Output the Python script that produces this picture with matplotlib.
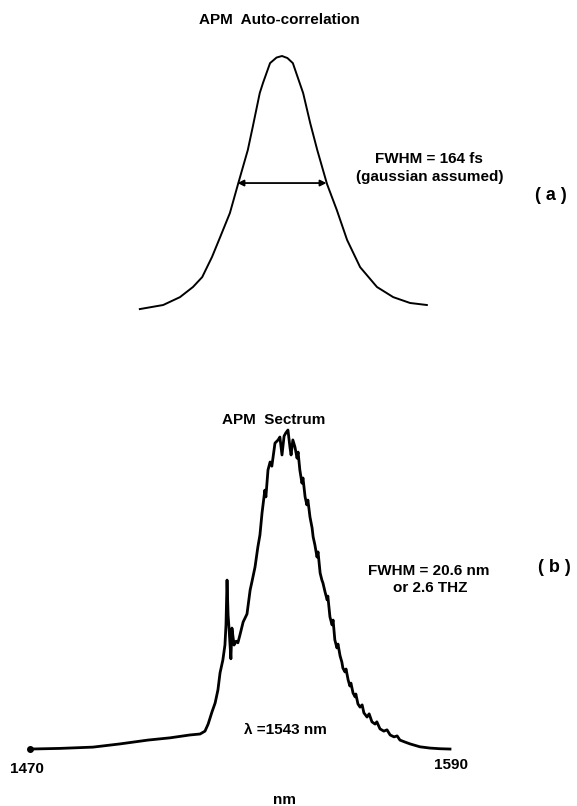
import matplotlib
matplotlib.use('Agg')
import matplotlib.pyplot as plt

W, H = 577, 806

# ---- (a) autocorrelation trace: delay (fs) vs normalised intensity ----
delay_fs = [-262, -219, -188, -164, -147, -129, -114, -96, -81, -72, -63, -54,
            -41, -35, -22, -10, 0, 10, 20, 39, 52, 65, 83, 101, 120, 144, 175,
            205, 236, 267]
autocorr = [0.004, 0.020, 0.051, 0.091, 0.130, 0.209, 0.287, 0.382, 0.496,
            0.563, 0.630, 0.720, 0.854, 0.894, 0.972, 0.994, 1.000, 0.992,
            0.972, 0.854, 0.736, 0.630, 0.496, 0.394, 0.276, 0.169, 0.091,
            0.051, 0.028, 0.020]
fwhm_fs = 164

# ---- (b) spectrum: wavelength (nm) vs normalised intensity ----
wavelength_nm = [1470.0, 1478.6, 1488.0, 1495.7, 1503.7, 1510.0, 1515.7, 1518.6,
                 1520.0, 1520.9, 1522.0, 1522.9, 1523.7, 1524.3, 1525.1, 1525.7,
                 1526.0, 1526.3, 1526.6, 1526.9, 1527.4, 1527.7, 1528.3, 1528.9,
                 1529.4, 1530.0, 1530.9, 1532.0, 1532.9, 1533.4, 1534.3, 1535.1,
                 1535.7, 1536.3, 1537.1, 1537.4, 1538.0, 1538.6, 1539.1, 1540.0,
                 1540.9, 1541.4, 1542.0, 1542.6, 1543.1, 1543.7, 1544.3, 1544.6,
                 1545.1, 1545.7, 1546.3, 1546.6, 1547.1, 1547.7, 1548.0, 1548.6,
                 1549.1, 1549.4, 1550.0, 1550.6, 1550.9, 1551.4, 1552.0, 1552.3,
                 1552.9, 1553.4, 1553.7, 1554.3, 1554.9, 1555.1, 1555.7, 1556.3,
                 1556.6, 1557.1, 1557.7, 1558.0, 1558.6, 1559.1, 1559.4, 1560.0,
                 1560.3, 1560.9, 1561.4, 1561.7, 1562.3, 1562.9, 1563.1, 1563.7,
                 1564.3, 1564.9, 1565.4, 1566.3, 1566.9, 1567.7, 1568.6, 1569.1,
                 1570.0, 1571.1, 1572.0, 1572.9, 1574.0, 1574.9, 1575.7, 1577.1,
                 1578.6, 1581.4, 1584.3, 1587.1, 1590.0]
spectrum = [0.003, 0.005, 0.009, 0.019, 0.031, 0.038, 0.047, 0.050,
            0.059, 0.081, 0.119, 0.147, 0.188, 0.241, 0.281, 0.328,
            0.391, 0.531, 0.422, 0.375, 0.285, 0.381, 0.328, 0.340,
            0.335, 0.360, 0.400, 0.425, 0.500, 0.525, 0.572, 0.634,
            0.672, 0.741, 0.812, 0.791, 0.875, 0.900, 0.887, 0.959,
            0.969, 0.978, 0.922, 0.981, 0.991, 1.000, 0.944, 0.922,
            0.969, 0.947, 0.912, 0.931, 0.875, 0.834, 0.850, 0.791,
            0.766, 0.781, 0.728, 0.694, 0.666, 0.641, 0.603, 0.619,
            0.553, 0.531, 0.522, 0.494, 0.469, 0.481, 0.416, 0.391,
            0.406, 0.344, 0.319, 0.331, 0.294, 0.275, 0.256, 0.244,
            0.253, 0.219, 0.200, 0.209, 0.178, 0.166, 0.175, 0.144,
            0.134, 0.141, 0.116, 0.103, 0.113, 0.088, 0.081, 0.088,
            0.066, 0.059, 0.063, 0.047, 0.041, 0.044, 0.031, 0.025,
            0.019, 0.010, 0.006, 0.004, 0.003]
x_tick_values = [1470, 1590]
x_tick_labels = ['1470', '1590']

FONT = 'Liberation Sans'

fig = plt.figure(figsize=(W / 100, H / 100), dpi=100)
fig.patch.set_facecolor('white')


def px_axes(x0, y0, x1, y1):
    return fig.add_axes([x0 / W, 1 - y1 / H, (x1 - x0) / W, (y1 - y0) / H])


def ftext(x, y, s, size=11, weight='bold', **kw):
    fig.text(x / W, 1 - y / H, s, ha='center', va='center', fontsize=size,
             fontweight=weight, family=FONT, color='black', **kw)


# ---- panel (a) ----
ax1 = px_axes(100, 40, 470, 320)
ax1.plot(delay_fs, autocorr, color='black', lw=1.4, solid_joinstyle='round')
ax1.set_xlim(-335.4, 346.5)
ax1.set_ylim(-0.039, 1.063)
ax1.axis('off')
ax1.annotate('', xy=(-fwhm_fs / 2, 0.5), xytext=(fwhm_fs / 2, 0.5),
             arrowprops=dict(arrowstyle='<|-|>', color='black', lw=1.3,
                             mutation_scale=9, shrinkA=0, shrinkB=0))

ftext(279, 20, 'APM  Auto-correlation')
ftext(429, 159, 'FWHM = 164 fs')
ftext(430, 177, '(gaussian assumed)')
ftext(551, 195, '( a )', size=13)

# ---- panel (b) ----
ax2 = px_axes(0, 400, 577, 760)
ax2.plot(wavelength_nm, spectrum, color='black', lw=2.0, solid_joinstyle='round')
ax2.plot([wavelength_nm[0]], [spectrum[0]], 'o', color='black', ms=4)
ax2.set_xlim(1461.43, 1626.29)
ax2.set_ylim(-0.03125, 1.09375)
ax2.axis('off')
for xv, lab, dy in zip(x_tick_values, x_tick_labels, [-14, -11]):
    ax2.annotate(lab, xy=(xv, 0), xytext=(-2 if xv == 1470 else 1, dy),
                 textcoords='offset points', ha='center', va='center',
                 fontsize=11, fontweight='bold', family=FONT)

ftext(274, 420, 'APM  Sectrum')
ftext(429, 571, 'FWHM = 20.6 nm')
ftext(430, 588, 'or 2.6 THZ')
ftext(554, 567, '( b )', size=13)
ftext(285, 730, 'λ =1543 nm')
ftext(285, 800, 'nm')

fig.savefig('out.png', dpi=100, facecolor='white')
